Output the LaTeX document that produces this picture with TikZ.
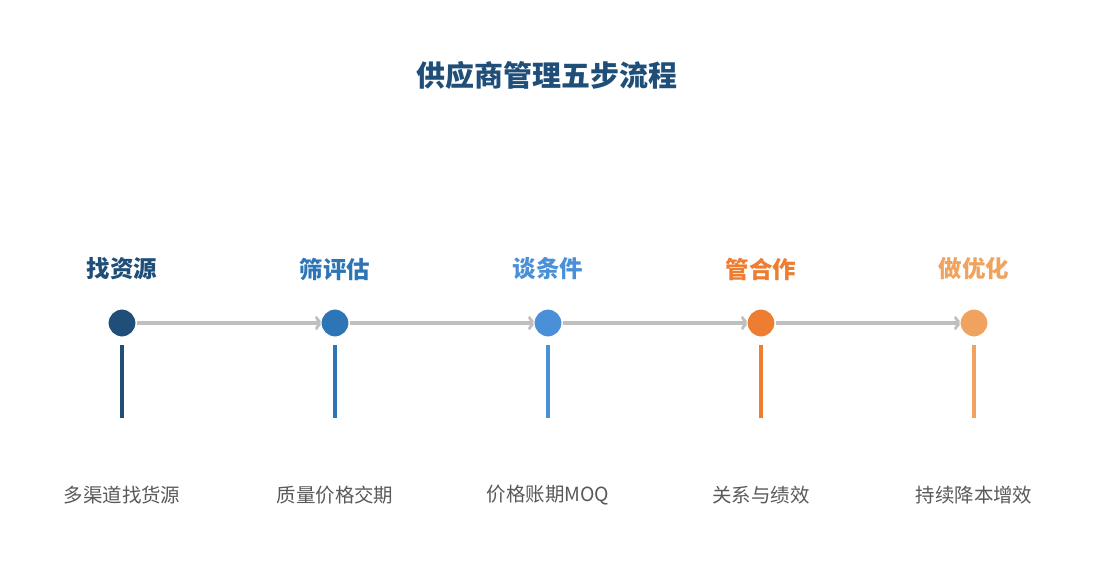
\documentclass[tikz,border=0pt]{standalone}
\usepackage{fontspec}
\setmainfont{Noto Sans CJK SC}
\usetikzlibrary{positioning,backgrounds}
\definecolor{stepA}{HTML}{1F4E79}
\definecolor{stepB}{HTML}{2E75B6}
\definecolor{stepC}{HTML}{4A90D9}
\definecolor{stepD}{HTML}{ED7D31}
\definecolor{stepE}{HTML}{F0A35E}
\definecolor{flow}{HTML}{BFBFBF}
\definecolor{note}{HTML}{595959}
\tikzset{
  dot/.style={circle, fill=#1, draw=white, line width=0.8pt, minimum size=21pt, inner sep=0pt},
  stem/.style={line width=2.4pt, draw=#1},
  steptitle/.style={font=\fontsize{17.6}{20}\selectfont\bfseries, text=#1},
  stepnote/.style={font=\fontsize{14.6}{17}\selectfont, text=note},
  flowline/.style={line width=2.6pt, draw=flow, ->}
}

\begin{document}
\begin{tikzpicture}[x=0.75pt, y=-0.75pt]
            \useasboundingbox (0,0) rectangle (1095,585);
            \node [font=\fontsize{21.7}{24}\selectfont\bfseries, text=stepA] (title) at (547,75) {供应商管理五步流程};
            % circles
            \node [dot=stepA] (d1) at (122,323) {};
            \node [dot=stepB] (d2) at (335,323) {};
            \node [dot=stepC] (d3) at (548,323) {};
            \node [dot=stepD] (d4) at (761,323) {};
            \node [dot=stepE] (d5) at (974,323) {};
            % step names
            \node [steptitle=stepA] (t1) at (122,269) {找资源};
            \node [steptitle=stepB] (t2) at (335,269) {筛评估};
            \node [steptitle=stepC] (t3) at (548,269) {谈条件};
            \node [steptitle=stepD] (t4) at (761,269) {管合作};
            \node [steptitle=stepE] (t5) at (974,269) {做优化};
            % stems
            \coordinate (e1) at (122,418);
            \coordinate (e2) at (335,418);
            \coordinate (e3) at (548,418);
            \coordinate (e4) at (761,418);
            \coordinate (e5) at (974,418);
            \draw [stem=stepA] ([yshift=-5.5pt]d1.south) -- (e1);
            \draw [stem=stepB] ([yshift=-5.5pt]d2.south) -- (e2);
            \draw [stem=stepC] ([yshift=-5.5pt]d3.south) -- (e3);
            \draw [stem=stepD] ([yshift=-5.5pt]d4.south) -- (e4);
            \draw [stem=stepE] ([yshift=-5.5pt]d5.south) -- (e5);
            % notes
            \node [stepnote] (n1) at (122,495) {多渠道找货源};
            \node [stepnote] (n2) at (335,495) {质量价格交期};
            \node [stepnote] (n3) at (548,495) {价格账期MOQ};
            \node [stepnote] (n4) at (761,495) {关系与绩效};
            \node [stepnote] (n5) at (974,495) {持续降本增效};
            % flow
            \begin{scope}[on background layer]
            \draw [flowline] (d1.east) -- ([xshift=2pt]d2.west);
            \draw [flowline] (d2.east) -- ([xshift=2pt]d3.west);
            \draw [flowline] (d3.east) -- ([xshift=2pt]d4.west);
            \draw [flowline] (d4.east) -- ([xshift=2pt]d5.west);
            \end{scope}
        \end{tikzpicture}
\end{document}
